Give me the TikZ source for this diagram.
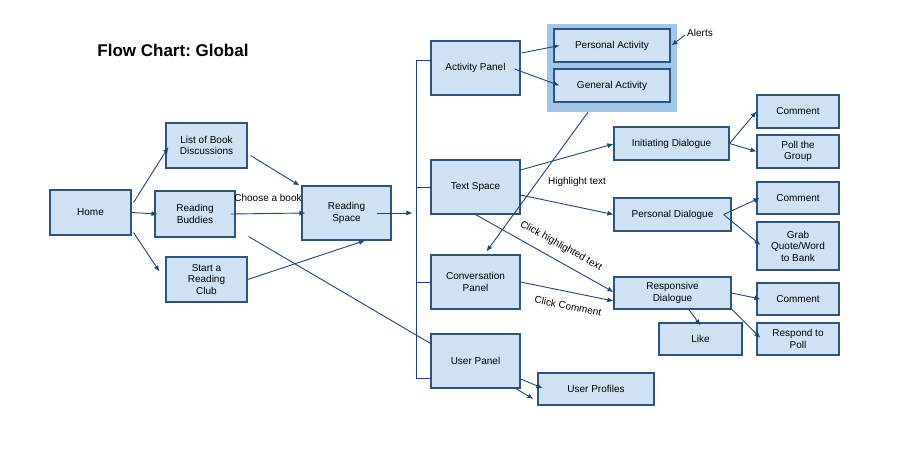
\documentclass[tikz,border=0pt]{standalone}
\usepackage{fontspec}
\setmainfont{Liberation Sans}
\usepackage{xcolor}
\usetikzlibrary{arrows.meta,positioning}
\definecolor{boxfill}{HTML}{CFE2F3}
\definecolor{boxline}{HTML}{2F5483}
\definecolor{linkcol}{HTML}{1C4587}
\definecolor{groupfill}{HTML}{9FC5E8}
\frenchspacing
\tikzset{
  panel/.style={
    inner sep = 0pt,
    shape = rectangle,
    draw = boxline,
    fill = boxfill,
    line width = 1.1pt,
    align = center,
    font = \fontsize{10}{11.5}\selectfont
  },
  flow/.style={
    draw = linkcol,
    line width = 0.9pt,
    -{Latex[length=6pt,width=5pt]}
  },
  conn/.style={
    draw = linkcol,
    line width = 0.9pt
  },
  lbl/.style={
    inner sep = 0pt,
    font = \fontsize{10}{11.5}\selectfont
  }
}

\begin{document}
\begin{tikzpicture}[x=1pt,y=-1pt]
    \useasboundingbox (0,0) rectangle (900,456);
    \fill[white] (0,0) rectangle (900,456);
    \node[inner sep=0pt, font=\fontsize{17}{20}\selectfont\bfseries] (title) at (173,50) {Flow Chart: Global};
    % left column
    \node[panel, minimum width=81, minimum height=45] (home) at (90.5,212.5) {Home};
    \node[panel, minimum width=81, minimum height=45] (list) at (206.5,145.5) {List of Book\\Discussions};
    \node[panel, minimum width=80, minimum height=46] (buddies) at (195,214) {Reading\\Buddies};
    \node[panel, minimum width=81, minimum height=45] (club) at (206.5,279.5) {Start a\\Reading\\Club};
    \node[panel, minimum width=89, minimum height=54] (space) at (346.5,213) {Reading\\Space};
    % panels
    \node[panel, minimum width=89, minimum height=54] (actp) at (475.5,68) {Activity Panel};
    \node[panel, minimum width=89, minimum height=54] (texts) at (475.5,187) {Text Space};
    \node[panel, minimum width=89, minimum height=54] (convp) at (475.5,282) {Conversation\\Panel};
    \node[panel, minimum width=89, minimum height=54] (userp) at (475.5,361) {User Panel};
    % activity group
    \node[fill=groupfill, inner sep=0pt, minimum width=130, minimum height=88] (group) at (612,68) {};
    \node[panel, minimum width=116, minimum height=33] (pact) at (612,45.5) {Personal Activity};
    \node[panel, minimum width=116, minimum height=33] (gact) at (612,85.5) {General Activity};
    \node[lbl] (alerts) at (700,33) {Alerts};
    % dialogues
    \node[panel, minimum width=115, minimum height=33] (initd) at (671.5,143.5) {Initiating Dialogue};
    \node[panel, minimum width=117, minimum height=33] (persd) at (672.5,214.5) {Personal Dialogue};
    \node[panel, minimum width=117, minimum height=32] (respd) at (672.5,293) {Responsive\\Dialogue};
    \node[panel, minimum width=83, minimum height=32] (like) at (700.5,339) {Like};
    \node[panel, minimum width=116, minimum height=32] (profiles) at (596,389) {User Profiles};
    % right column
    \node[panel, minimum width=82, minimum height=33] (cmtinit) at (798,111.5) {Comment};
    \node[panel, minimum width=82, minimum height=33] (poll) at (798,151.5) {Poll the\\Group};
    \node[panel, minimum width=82, minimum height=32] (cmtpers) at (798,198) {Comment};
    \node[panel, minimum width=82, minimum height=48] (grab) at (798,246) {Grab\\Quote/Word\\to Bank};
    \node[panel, minimum width=82, minimum height=32] (cmtresp) at (798,299) {Comment};
    \node[panel, minimum width=82, minimum height=32] (respoll) at (798,339) {Respond to\\Poll};
    % labels
    \node[lbl] (choose) at (268,198) {Choose a book};
    \node[lbl] (hltext) at (577,182) {Highlight text};
    \node[lbl, rotate=-29] (clickhl) at (561,246) {Click highlighted text};
    \node[lbl, rotate=-11.5] (clickcmt) at (568,306) {Click Comment};
    % bus
    \draw[conn] (actp.170) -- ++(-14,0) coordinate (bustop) |- (userp.-159);
    \draw[conn] (texts.west) -- (texts.west -| bustop);
    \draw[conn] (convp.west) -- (convp.west -| bustop);
    % connectors
    \draw[flow] ([shift={(2,-10)}]home.east) -- ([shift={(3,1.5)}]list.west);
    \draw[flow] (home.east) -- ([shift={(3,0)}]buddies.west);
    \draw[flow] ([shift={(2,20)}]home.east) -- ([shift={(-6,-8)}]club.west);
    \draw[flow] ([shift={(3,10)}]list.east) -- ([shift={(-2,0)}]space.north west);
    \draw[flow] ([shift={(-5,0)}]buddies.east) -- ([shift={(4,0)}]space.west);
    \draw[flow] (club.east) -- ([shift={(18.5,0)}]space.south);
    \draw[conn] ([shift={(13,-1)}]buddies.south east) -- ([shift={(0,10)}]userp.north west);
    \draw[flow, shorten >=4pt] ([shift={(-15,0)}]space.east) -- (space.east -| bustop);
    \draw[flow] ([shift={(1,-15)}]actp.east) -- ([shift={(6,0)}]pact.west);
    \draw[flow] ([shift={(-6,1)}]actp.east) -- ([shift={(6,0)}]gact.west);
    \draw[flow] ([shift={(-2,2)}]alerts.west) -- ([shift={(1,0)}]pact.east);
    \draw[flow] ([shift={(-24,0)}]group.south) -- ([shift={(11,-3)}]convp.north);
    \draw[flow] ([shift={(0,-17)}]texts.east) -- ([shift={(0,0.5)}]initd.west);
    \draw[flow] ([shift={(0,8)}]texts.east) -- (persd.west);
    \draw[flow] (texts.south) -- ([shift={(0,-1)}]respd.west);
    \draw[flow] (convp.east) -- ([shift={(0,8)}]respd.west);
    \draw[flow] ([shift={(0,18)}]userp.east) -- ([shift={(5,-1)}]profiles.west);
    \draw[flow] ([shift={(-4,28)}]userp.east) -- ([shift={(-4,10)}]profiles.west);
    \draw[flow] (initd.east) -- (cmtinit.west);
    \draw[flow] (initd.east) -- (poll.west);
    \draw[flow] ([shift={(-8,0)}]persd.east) -- ([shift={(3,0)}]cmtpers.west);
    \draw[flow] ([shift={(-8,0)}]persd.east) -- ([shift={(4,-1)}]grab.west);
    \draw[flow] (respd.east) -- ([shift={(4,0)}]cmtresp.west);
    \draw[flow] ([shift={(-1,15)}]respd.east) -- ([shift={(4,-1)}]respoll.west);
    \draw[flow] ([shift={(16,16)}]respd.center) -- ([shift={(0,3)}]like.north);
\end{tikzpicture}
\end{document}
